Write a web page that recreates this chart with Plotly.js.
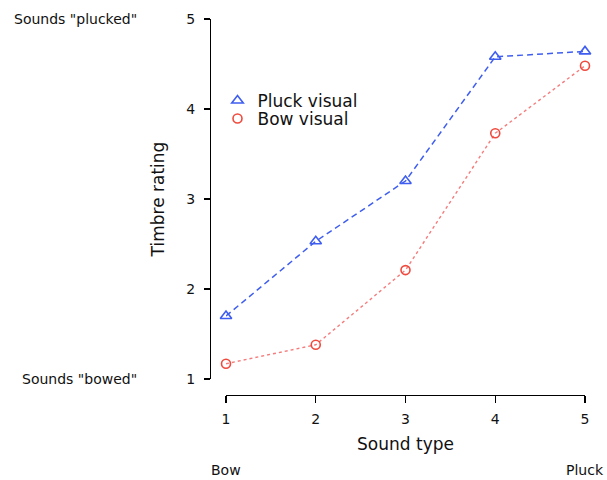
<!DOCTYPE html>
<html>
<head>
<meta charset="utf-8">
<script src="https://cdn.plot.ly/plotly-3.0.1.min.js"></script>
<style>html,body{margin:0;padding:0;background:#fff;}#chart{width:607px;height:480px;}</style>
</head>
<body>
<div id="chart"></div>
<script>
const soundType = [1, 2, 3, 4, 5];
const pluckVisual = [1.70, 2.53, 3.20, 4.58, 4.64];
const bowVisual = [1.17, 1.38, 2.21, 3.73, 4.48];
const xTicks = [1, 2, 3, 4, 5];
const yTicks = [1, 2, 3, 4, 5];

const FONT = 'DejaVu Sans, Liberation Sans, sans-serif';
const BLUE = '#3f5ef0';
const RED = '#f04a3e';

const traces = [
  {x: soundType, y: pluckVisual, mode: 'lines', line: {color: BLUE, dash: '6px,4px', width: 1.5}, showlegend: false, hoverinfo: 'skip', cliponaxis: false},
  {x: soundType, y: bowVisual, mode: 'lines', line: {color: 'rgba(240,80,80,0.75)', dash: 'dot', width: 1.4}, showlegend: false, hoverinfo: 'skip', cliponaxis: false},
  {x: soundType, y: pluckVisual, mode: 'markers', name: 'Pluck visual', legend: 'legend', cliponaxis: false, marker: {symbol: 'triangle-up-open', size: 10, color: BLUE, line: {width: 1.6}}},
  {x: soundType, y: bowVisual, mode: 'markers', name: 'Bow visual', legend: 'legend2', cliponaxis: false, marker: {symbol: 'circle-open', size: 9, color: RED, line: {width: 1.6}}}
];

const legendBase = {
  xanchor: 'left', yanchor: 'middle',
  bgcolor: 'rgba(0,0,0,0)', font: {size: 17, family: FONT, color: '#111'},
  itemwidth: 30
};

const layout = {
  width: 607, height: 480,
  margin: {l: 210, r: 22, t: 19, b: 85},
  paper_bgcolor: '#fff', plot_bgcolor: '#fff',
  font: {family: FONT, color: '#111'},
  xaxis: {
    domain: [0.04267, 1], range: [1, 5], anchor: 'free', position: 0,
    tickvals: xTicks, ticktext: xTicks.map(String),
    showline: true, linecolor: '#000', linewidth: 1.3,
    ticks: 'outside', ticklen: 7, tickwidth: 1.2, tickcolor: '#000',
    ticklabelstandoff: 4,
    showgrid: false, zeroline: false,
    tickfont: {size: 14, family: FONT, color: '#111'},
    title: {text: 'Sound type', font: {size: 17, family: FONT, color: '#111'}, standoff: 12}
  },
  yaxis: {
    domain: [0.04255, 1], range: [1, 5], anchor: 'free', position: 0,
    tickvals: yTicks, ticktext: yTicks.map(String),
    showline: true, linecolor: '#000', linewidth: 1.3,
    ticks: 'outside', ticklen: 6, tickwidth: 1.2, tickcolor: '#000',
    ticklabelstandoff: 6,
    showgrid: false, zeroline: false,
    tickfont: {size: 14, family: FONT, color: '#111'},
    title: {text: 'Timbre rating', font: {size: 17, family: FONT, color: '#111'}, standoff: 16}
  },
  legend: Object.assign({x: 0.02, y: 0.782}, legendBase),
  legend2: Object.assign({x: 0.02, y: 0.734}, legendBase),
  annotations: [
    {text: 'Sounds "plucked"', xref: 'paper', yref: 'y', x: -0.528, y: 5, xanchor: 'left', yanchor: 'middle', showarrow: false, font: {size: 14, family: FONT, color: '#111'}},
    {text: 'Sounds "bowed"', xref: 'paper', yref: 'y', x: -0.507, y: 1, xanchor: 'left', yanchor: 'middle', showarrow: false, font: {size: 14, family: FONT, color: '#111'}},
    {text: 'Bow', xref: 'x', yref: 'paper', x: 1, y: -0.2, xanchor: 'center', yanchor: 'middle', showarrow: false, font: {size: 14, family: FONT, color: '#111'}},
    {text: 'Pluck', xref: 'x', yref: 'paper', x: 5, y: -0.2, xanchor: 'center', yanchor: 'middle', showarrow: false, font: {size: 14, family: FONT, color: '#111'}}
  ]
};

Plotly.newPlot('chart', traces, layout, {displayModeBar: false, staticPlot: true});
</script>
</body>
</html>
